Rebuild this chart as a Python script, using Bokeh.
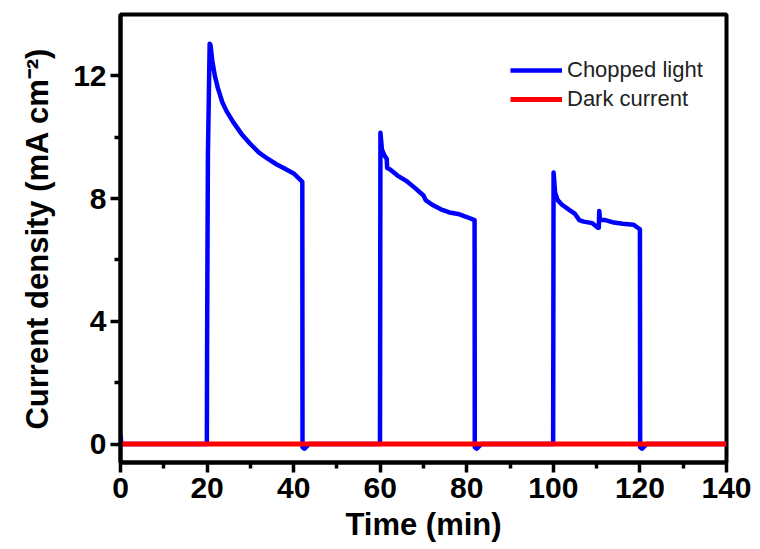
from bokeh.plotting import figure
from bokeh.models import FixedTicker, Range1d, Legend, LegendItem
from bokeh.embed import file_html
from bokeh.resources import INLINE

# Chopped light photocurrent (time in min, current density in mA cm^-2)
t_light = [0, 0.2, 19.95, 20.0, 20.1, 20.2, 20.6, 20.8, 21.2, 21.8, 22.5, 23.5, 24.5, 26, 28, 30, 32, 34, 36, 38, 40,
           41.5, 42.0,
           42.05, 42.5, 43.5, 59.95, 60.0, 60.05, 60.4, 61.0, 61.5, 61.6, 62.3, 64, 66, 68, 70, 70.5, 72, 74, 76, 78, 80,
           81.8, 81.85, 82.3, 83.3, 99.95, 100.0, 100.05, 100.4, 101, 102, 103.5, 105, 106, 107, 109, 110.3, 110.5,
           110.6, 110.8, 112, 114, 116, 118.5, 119.5, 120.0, 120.05, 120.5, 121.5, 140]
j_light = [0.3, 0, 0, 3.0, 6.5, 9.5, 13.05, 13.0, 12.5, 12.0, 11.6, 11.15, 10.85, 10.5, 10.1, 9.78, 9.5, 9.3, 9.12, 8.97,
           8.82, 8.62, 8.55,
           -0.1, -0.15, 0, 0, 5.0, 10.15, 9.6, 9.4, 9.3, 9.0, 8.95, 8.75, 8.58, 8.35, 8.1, 7.95, 7.8, 7.65, 7.55, 7.5, 7.4,
           7.3, -0.1, -0.15, 0, 0, 4.0, 8.85, 8.2, 7.95, 7.8, 7.65, 7.5, 7.3, 7.25, 7.2, 7.05, 7.05,
           7.6, 7.3, 7.3, 7.22, 7.18, 7.15, 7.05, 7.0, -0.1, -0.15, 0, 0]

# Dark current
t_dark = [0, 140]
j_dark = [0, 0]

x_ticks = [0, 20, 40, 60, 80, 100, 120, 140]
x_minor = [10, 30, 50, 70, 90, 110, 130]
y_ticks = [0, 4, 8, 12]
y_minor = [2, 6, 10]

p = figure(width=760, height=549, output_backend="svg", toolbar_location=None,
           x_range=Range1d(0, 140), y_range=Range1d(-0.6, 14),
           min_border_left=120, min_border_right=34, min_border_top=14, min_border_bottom=87)

r_light = p.line(t_light, j_light, line_color="#0000ff", line_width=4.5, line_join="round")
r_dark = p.line(t_dark, j_dark, line_color="#ff0000", line_width=5)

p.xgrid.visible = False
p.ygrid.visible = False
p.outline_line_color = "black"
p.outline_line_width = 4
p.background_fill_color = "white"
p.border_fill_color = "white"

for ax, ticks, minor in ((p.xaxis[0], x_ticks, x_minor), (p.yaxis[0], y_ticks, y_minor)):
    ax.ticker = FixedTicker(ticks=ticks, minor_ticks=minor)
    ax.axis_line_width = 4
    ax.axis_line_color = "black"
    ax.major_tick_line_width = 3.5
    ax.minor_tick_line_width = 3.5
    ax.major_tick_out = 10
    ax.major_tick_in = 0
    ax.minor_tick_out = 6
    ax.minor_tick_in = 0
    ax.major_label_text_font = "Liberation Sans"
    ax.major_label_text_font_style = "bold"
    ax.major_label_text_font_size = "30px"
    ax.major_label_text_color = "black"
    ax.axis_label_text_font = "Liberation Sans"
    ax.axis_label_text_font_style = "bold"
    ax.axis_label_text_font_size = "31px"
    ax.axis_label_text_color = "black"

p.xaxis.axis_label = "Time (min)"
p.yaxis.axis_label = "Current density (mA cm\u207b\u00b2)"
p.xaxis.major_label_standoff = 5
p.xaxis.axis_label_standoff = 6
p.yaxis.major_label_standoff = 4
p.yaxis.axis_label_standoff = 15

legend = Legend(items=[LegendItem(label="Chopped light", renderers=[r_light]),
                       LegendItem(label="Dark current", renderers=[r_dark])],
                location=(390, 350))
legend.border_line_color = None
legend.background_fill_alpha = 0
legend.label_text_font = "Liberation Sans"
legend.label_text_font_size = "22px"
legend.label_text_color = "#222222"
legend.glyph_width = 52
legend.glyph_height = 24
legend.label_height = 24
legend.label_standoff = 5
legend.spacing = 3
legend.padding = 0
legend.margin = 0
p.add_layout(legend)

open("out.html", "w").write(file_html(p, INLINE))
